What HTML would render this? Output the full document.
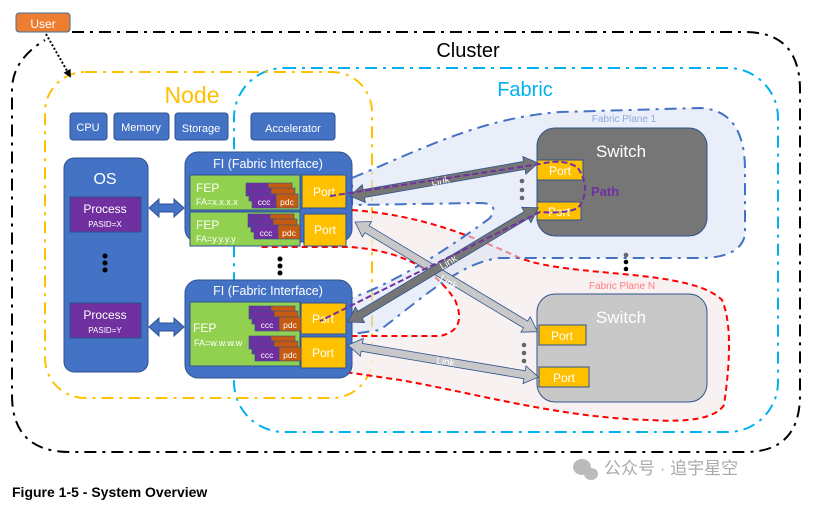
<!DOCTYPE html>
<html><head><meta charset="utf-8"><style>
html,body{margin:0;padding:0;background:#fff;}
svg{display:block;}
text{font-family:"Liberation Sans","Noto Sans CJK SC",sans-serif;}
</style></head><body>
<svg width="813" height="507" viewBox="0 0 813 507" xmlns="http://www.w3.org/2000/svg">
<defs>
<marker id="ah" markerUnits="userSpaceOnUse" markerWidth="8" markerHeight="8" refX="6" refY="4" orient="auto"><path d="M0,0 L8,4 L0,8 Z" fill="#000"/></marker>
</defs>
<!-- Cluster -->
<path d="M72,32 L745,32 Q800,32 800,90 L800,395 Q800,452 745,452 L70,452 Q12,452 12,395 L12,90 Q12,60 45,40" fill="none" stroke="#000" stroke-width="2" stroke-dasharray="12,6,3,6"/>
<text x="468" y="57" font-size="20" text-anchor="middle" fill="#000">Cluster</text>
<!-- Fabric -->
<rect x="234" y="68" width="544" height="364" rx="50" fill="none" stroke="#00B0F0" stroke-width="2" stroke-dasharray="12,6,3,6"/>
<text x="525" y="96" font-size="20" text-anchor="middle" fill="#00B0F0">Fabric</text>
<!-- Node -->
<rect x="45" y="72" width="327" height="326" rx="40" fill="none" stroke="#FFC000" stroke-width="2" stroke-dasharray="12,6,3,6"/>
<text x="192" y="103" font-size="23" text-anchor="middle" fill="#FFC000">Node</text>
<!-- Fabric plane N -->
<path d="M352,210 C420,215 470,235 520,258 C570,278 690,268 722,300 Q735,330 724,405 Q712,424 650,420 C560,418 470,392 400,380 L345,372 L345,336 L440,336 Q468,330 455,300 C430,262 390,250 350,247 L262,247 Q245,240 250,225 Q262,212 300,212 Z" fill="#F6EEEE" fill-opacity="0.8" stroke="#FF0000" stroke-width="2" stroke-dasharray="6,4"/>
<!-- Fabric plane 1 -->
<path d="M352,178 C420,150 480,118 560,112 L700,108 Q745,110 745,170 L745,235 Q740,258 700,258 L500,258 C460,262 420,300 380,330 L346,335 L346,300 C400,282 460,240 490,218 Q500,203 480,203 L352,205 Z" fill="#DAE3F3" fill-opacity="0.6" stroke="#4472C4" stroke-width="2" stroke-dasharray="12,6,3,6"/>
<text x="624" y="122" font-size="10" text-anchor="middle" fill="#8FAADC">Fabric Plane 1</text>
<text x="622" y="289" font-size="10" text-anchor="middle" fill="#FF7C80">Fabric Plane N</text>
<!-- User -->
<rect x="16" y="13" width="54" height="19" rx="3" fill="#ED7D31" stroke="#41719C"/>
<text x="43" y="28" font-size="12" text-anchor="middle" fill="#fff">User</text>
<line x1="46" y1="34" x2="70" y2="76" stroke="#000" stroke-width="2" stroke-dasharray="2,2" marker-end="url(#ah)"/>
<!-- top boxes -->
<g fill="#4472C4" stroke="#2F528F">
<rect x="70" y="113" width="37" height="27" rx="3"/>
<rect x="114" y="113" width="55" height="27" rx="3"/>
<rect x="175" y="113" width="53" height="27" rx="3"/>
<rect x="251" y="113" width="84" height="27" rx="3"/>
</g>
<g font-size="11" fill="#fff" text-anchor="middle">
<text x="88" y="131">CPU</text><text x="141" y="131">Memory</text><text x="201" y="132">Storage</text><text x="293" y="132">Accelerator</text>
</g>
<!-- OS -->
<rect x="64" y="158" width="84" height="214" rx="10" fill="#4472C4" stroke="#2F528F"/>
<text x="105" y="184" font-size="16" fill="#fff" text-anchor="middle">OS</text>
<rect x="70" y="197" width="71" height="35" fill="#7030A0" stroke="#2F528F"/>
<text x="105" y="213" font-size="12" fill="#fff" text-anchor="middle">Process</text>
<text x="105" y="227" font-size="8" fill="#fff" text-anchor="middle">PASID=X</text>
<rect x="70" y="303" width="71" height="35" fill="#7030A0" stroke="#2F528F"/>
<text x="105" y="319" font-size="12" fill="#fff" text-anchor="middle">Process</text>
<text x="105" y="333" font-size="8" fill="#fff" text-anchor="middle">PASID=Y</text>
<g fill="#000"><circle cx="105" cy="256" r="2.5"/><circle cx="105" cy="263" r="2.5"/><circle cx="105" cy="270" r="2.5"/>
<circle cx="280" cy="259" r="2.5"/><circle cx="280" cy="266" r="2.5"/><circle cx="280" cy="273" r="2.5"/></g>
<g fill="#4472C4" stroke="#2F528F">
<polygon points="149,208 159,199 159,204 174,204 174,199 184,208 174,217 174,212 159,212 159,217"/>
<polygon points="149,327 159,318 159,323 174,323 174,318 184,327 174,336 174,331 159,331 159,336"/>
</g>
<!-- FI 1 -->
<rect x="185" y="152" width="167" height="90" rx="13" fill="#4472C4" stroke="#2F528F"/>
<text x="268" y="168" font-size="12.5" fill="#fff" text-anchor="middle">FI (Fabric Interface)</text>
<rect x="190" y="175" width="110" height="35" fill="#92D050" stroke="#2F528F"/>
<rect x="190" y="212" width="110" height="34" fill="#92D050" stroke="#2F528F"/>
<text x="196" y="192" font-size="12" fill="#fff">FEP</text><text x="196" y="205" font-size="9" fill="#fff">FA=x.x.x.x</text>
<text x="196" y="229" font-size="12" fill="#fff">FEP</text><text x="196" y="242" font-size="9" fill="#fff">FA=y.y.y.y</text>
<rect x="302" y="175" width="44" height="33" fill="#FFC000" stroke="#2F528F"/>
<rect x="304" y="214" width="42" height="32" fill="#FFC000" stroke="#2F528F"/>
<text x="324" y="196" font-size="12" fill="#fff" text-anchor="middle">Port</text>
<text x="325" y="234" font-size="12" fill="#fff" text-anchor="middle">Port</text>
<!-- FI 2 -->
<rect x="185" y="280" width="167" height="98" rx="13" fill="#4472C4" stroke="#2F528F"/>
<text x="268" y="295" font-size="12.5" fill="#fff" text-anchor="middle">FI (Fabric Interface)</text>
<rect x="190" y="302" width="110" height="64" fill="#92D050" stroke="#2F528F"/>
<text x="193" y="332" font-size="12" fill="#fff">FEP</text><text x="194" y="346" font-size="9" fill="#fff">FA=w.w.w.w</text>
<rect x="301" y="303" width="45" height="31" fill="#FFC000" stroke="#2F528F"/>
<rect x="301" y="337" width="45" height="31" fill="#FFC000" stroke="#2F528F"/>
<text x="323" y="323" font-size="12" fill="#fff" text-anchor="middle">Port</text>
<text x="323" y="357" font-size="12" fill="#fff" text-anchor="middle">Port</text>
<!-- ccc/pdc stacks -->
<g id="stk1">
<rect x="246" y="183" width="24" height="13" fill="#7030A0" stroke="#2F528F" stroke-width="0.6"/><rect x="268" y="183" width="24" height="13" fill="#C55A11" stroke="#2F528F" stroke-width="0.6"/>
<rect x="249" y="188" width="24" height="13" fill="#7030A0" stroke="#2F528F" stroke-width="0.6"/><rect x="271" y="188" width="24" height="13" fill="#C55A11" stroke="#2F528F" stroke-width="0.6"/>
<rect x="252" y="194" width="24" height="14" fill="#7030A0" stroke="#2F528F" stroke-width="0.6"/><rect x="276" y="194" width="22" height="14" fill="#C55A11" stroke="#2F528F" stroke-width="0.6"/>
<text x="264" y="205" font-size="8.5" fill="#fff" text-anchor="middle">ccc</text><text x="287" y="205" font-size="8.5" fill="#fff" text-anchor="middle">pdc</text>
</g>
<use href="#stk1" transform="translate(2,31)"/>
<use href="#stk1" transform="translate(3,123)"/>
<use href="#stk1" transform="translate(3,153)"/>
<!-- Switches -->
<rect x="537" y="128" width="170" height="108" rx="18" fill="#767676" stroke="#2F528F"/>
<text x="621" y="157" font-size="17" fill="#fff" text-anchor="middle">Switch</text>
<rect x="537" y="160" width="46" height="20" fill="#FFC000" stroke="#2F528F"/>
<rect x="537" y="202" width="44" height="18" fill="#FFC000" stroke="#2F528F"/>
<text x="560" y="175" font-size="12" fill="#fff" text-anchor="middle">Port</text>
<text x="559" y="216" font-size="12" fill="#fff" text-anchor="middle">Port</text>
<rect x="537" y="294" width="170" height="108" rx="18" fill="#C8C8C8" stroke="#2F528F"/>
<text x="621" y="323" font-size="17" fill="#fff" text-anchor="middle">Switch</text>
<rect x="539" y="325" width="47" height="20" fill="#FFC000" stroke="#2F528F"/>
<rect x="539" y="367" width="50" height="20" fill="#FFC000" stroke="#2F528F"/>
<text x="562" y="340" font-size="12" fill="#fff" text-anchor="middle">Port</text>
<text x="564" y="382" font-size="12" fill="#fff" text-anchor="middle">Port</text>
<g fill="#666"><circle cx="522" cy="181" r="2.3"/><circle cx="522" cy="190" r="2.3"/><circle cx="522" cy="198" r="2.3"/>
<circle cx="524" cy="345" r="2.3"/><circle cx="524" cy="353" r="2.3"/><circle cx="524" cy="361" r="2.3"/>
<circle cx="626" cy="255" r="2.3"/></g>
<g fill="#000"><circle cx="626" cy="262" r="2.3"/><circle cx="626" cy="269" r="2.3"/></g>
<!-- Links -->
<g stroke="#2F528F" stroke-width="0.8">
<polygon fill="#C8C8C8" transform="translate(355,222) rotate(31)" points="0,0 14,-9 14,-4 199,-4 199,-9 213,0 199,9 199,4 14,4 14,9"/>
<polygon fill="#C8C8C8" transform="translate(348,345) rotate(9.56)" points="0,0 14,-9 14,-4 179,-4 179,-9 193,0 179,9 179,4 14,4 14,9"/>
<polygon fill="#767676" transform="translate(350,196) rotate(-9.96)" points="0,0 14,-9 14,-4 177,-4 177,-9 191,0 177,9 177,4 14,4 14,9"/>
<polygon fill="#767676" transform="translate(348,322) rotate(-30.96)" points="0,0 14,-9 14,-4 208,-4 208,-9 222,0 208,9 208,4 14,4 14,9"/>
</g>
<g font-size="10" fill="#fff" text-anchor="middle">
<text transform="translate(441,184) rotate(-10)">Link</text>
<text transform="translate(450,265) rotate(-31)">Link</text>
<text transform="translate(447,285) rotate(31)">Link</text>
<text transform="translate(445,365) rotate(9.5)">Link</text>
</g>
<!-- Path -->
<path d="M330,196 L540,164 Q565,158 578,168 Q592,190 578,208 Q565,214 540,212 L320,321" fill="none" stroke="#7030A0" stroke-width="2" stroke-dasharray="6,3"/>
<text x="591" y="196" font-size="13" font-weight="bold" fill="#7030A0">Path</text>
<!-- Caption & watermark -->
<text x="12" y="497" font-size="14" font-weight="bold" fill="#000">Figure 1-5 - System Overview</text>
<g fill="#bbb"><ellipse cx="582" cy="467" rx="9" ry="8"/><ellipse cx="591" cy="474" rx="7" ry="6"/></g>
<text x="604" y="474" font-size="17" fill="#aaa">公众号 · 追宇星空</text>
</svg>
</body></html>
